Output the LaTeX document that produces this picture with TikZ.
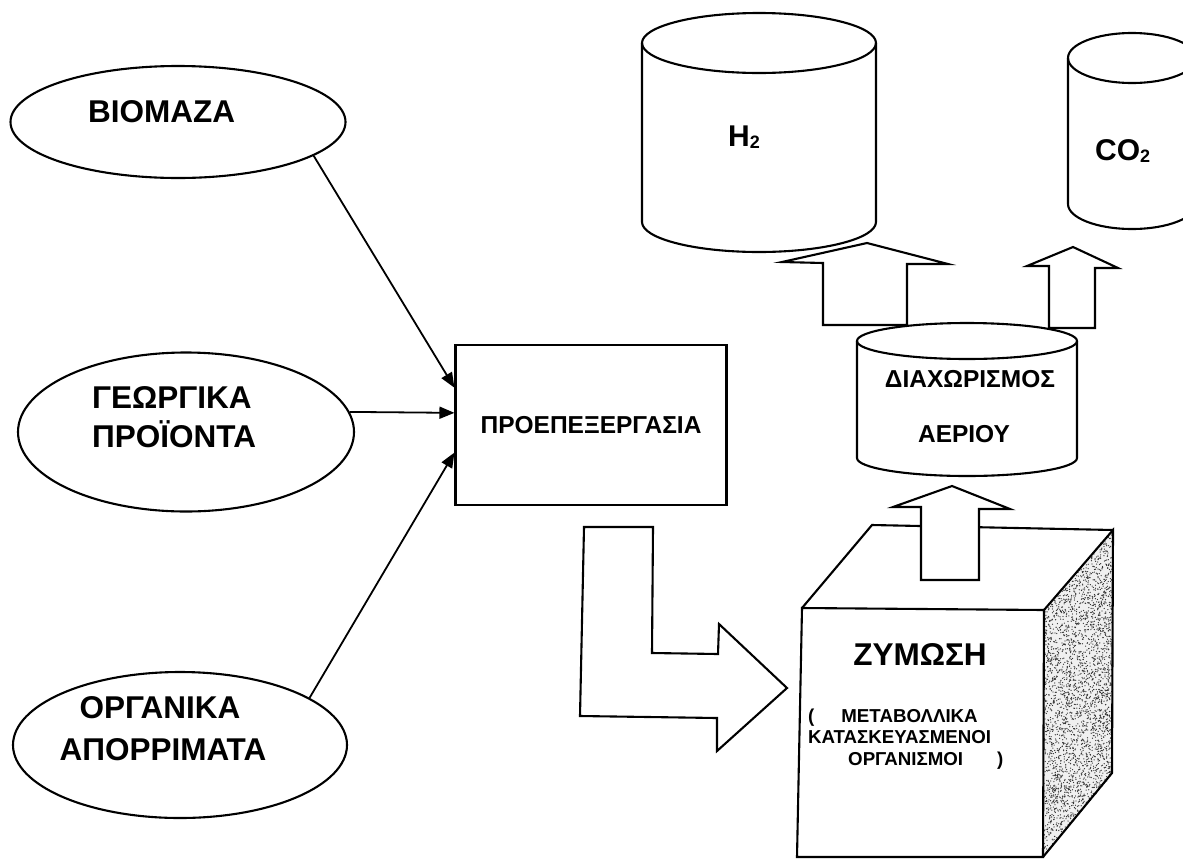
\documentclass[tikz,border=0pt]{standalone}
\usepackage{fontspec}
\setmainfont{Liberation Sans}
\usetikzlibrary{shapes.geometric,arrows.meta,calc}

% tank: centre x, top-ellipse y, bottom-ellipse y, x radius, y radius
\newcommand{\drawtank}[5]{%
  \draw[outline, fill=white] (#1-#4,#2) -- (#1-#4,#3)
    .. controls (#1-#4,#3+0.552*#5) and (#1-0.552*#4,#3+#5) .. (#1,#3+#5)
    .. controls (#1+0.552*#4,#3+#5) and (#1+#4,#3+0.552*#5) .. (#1+#4,#3)
    -- (#1+#4,#2);
  \draw[outline] (#1,#2) ellipse [x radius=#4, y radius=#5];
}

\tikzset{
  outline/.style={line width=2.1pt, line join=miter},
  src/.style={draw, ellipse, line width=2.1pt, inner sep=0pt},
  biglbl/.style={font=\bfseries\fontsize{31.5}{31.5}\selectfont, inner sep=0pt},
  midlbl/.style={font=\bfseries\fontsize{24.5}{24.5}\selectfont, inner sep=0pt},
  smalllbl/.style={font=\bfseries\fontsize{18.7}{18.7}\selectfont, inner sep=0pt},
  feed/.style={line width=1.8pt, -{Triangle[length=15pt,width=12pt]}},
  blockarrow/.style={draw, fill=white, line width=2.1pt, line join=miter},
}

\begin{document}
\begin{tikzpicture}[x=1pt,y=-1pt]
\useasboundingbox (0,0) rectangle (1183,860);
\clip (0,0) rectangle (1183,860);

% raw material sources
\node[src, minimum width=335pt, minimum height=112pt] (bio) at (178,122) {};
\node[src, minimum width=336pt, minimum height=159pt] (geo) at (186,432) {};
\node[src, minimum width=334pt, minimum height=146pt] (org) at (180,745) {};

\node[biglbl, anchor=base west] (biot) at (88,122) {ΒΙΟΜΑΖΑ};
\node[biglbl, anchor=base west] (geot1) at (92,408) {ΓΕΩΡΓΙΚΑ};
\node[biglbl, anchor=base west] (geot2) at (92,447) {ΠΡΟΪΟΝΤΑ};
\node[biglbl, anchor=base] (orgt1) at (160,718) {ΟΡΓΑΝΙΚΑ};
\node[biglbl, anchor=base] (orgt2) at (163,760) {ΑΠΟΡΡΙΜΑΤΑ};

% pretreatment box
\node[draw, line width=2.1pt, minimum width=271pt, minimum height=160pt,
      midlbl] (pre) at (591,425) {ΠΡΟΕΠΕΞΕΡΓΑΣΙΑ};

\coordinate (in1) at ($(pre.north west)!0.27!(pre.south west)$);
\coordinate (in2) at ($(pre.north west)!0.425!(pre.south west)$);
\coordinate (in3) at ($(pre.north west)!0.67!(pre.south west)$);

\draw[feed] (bio.-14) -- (in1);
\draw[feed] (geo.7) -- (in2);
\draw[feed] (org.20) -- (in3);

% bent arrow towards the fermenter
\draw[blockarrow] (584,527) -- (653,527) -- (652,653) -- (718,654) -- (719,624)
  -- (787,688) -- (717,751) -- (717,718) -- (580,716) -- cycle;

% fermenter block: stippled side face
\fill[gray!12] (1044,610) -- (1113,530) -- (1112,773) -- (1043,857) -- cycle;
\pgfmathsetseed{4711}
\foreach \i in {1,...,2900}{
  \pgfmathsetmacro\s{rnd}
  \pgfmathsetmacro\t{rnd}
  \fill[black!80] (1044+68*\s, 610-80*\s+245*\t) circle[radius=0.65pt];
}
\draw[outline] (1044,610) -- (1113,530) -- (1112,773) -- (1043,857);
\draw[outline] (802,608) -- (872,525) -- (1113,530);
\draw[outline] (802,608) -- (1044,610) -- (1043,857) -- (797,857) -- cycle;

\node[biglbl, anchor=base] (zym) at (920,665) {ΖΥΜΩΣΗ};
\node[smalllbl, anchor=base west] (zl1) at (808,722) {(\hspace*{27pt}ΜΕΤΑΒΟΛΛΙΚΑ};
\node[smalllbl, anchor=base west] (zl2) at (808,743) {ΚΑΤΑΣΚΕΥΑΣΜΕΝΟΙ};
\node[smalllbl, anchor=base west] (zl3) at (848,765) {ΟΡΓΑΝΙΣΜΟΙ\hspace*{34pt})};

% up arrow from fermenter to gas separation
\draw[blockarrow] (921,580) -- (921,507) -- (893,507) -- (952,486) -- (1010,509)
  -- (979,509) -- (979,580) -- cycle;

% product tanks
\drawtank{759}{43}{222}{117}{30}
\drawtank{1132}{58}{204}{64}{25}
\node[biglbl, font=\bfseries\fontsize{30}{30}\selectfont, anchor=base west] (h2)
  at (728,146) {H\raisebox{-2pt}{\fontsize{18}{18}\selectfont 2}};
\node[biglbl, font=\bfseries\fontsize{30}{30}\selectfont, anchor=base west] (co2)
  at (1095,160) {CO\raisebox{-2pt}{\fontsize{18}{18}\selectfont 2}};

% arrows out of the separator
\draw[blockarrow] (823,325) -- (823,263) -- (782,262) -- (867,243) -- (948,264)
  -- (907,264) -- (907,325) -- cycle;
\draw[blockarrow] (1049,328) -- (1049,266) -- (1027,266) -- (1073,247) -- (1118,268)
  -- (1095,268) -- (1095,328) -- cycle;

% gas separation tank
\drawtank{967}{341}{458}{110}{18}
\node[midlbl, anchor=base] (sep1) at (970,387) {ΔΙΑΧΩΡΙΣΜΟΣ};
\node[midlbl, anchor=base] (sep2) at (964,442) {ΑΕΡΙΟΥ};

\end{tikzpicture}
\end{document}
